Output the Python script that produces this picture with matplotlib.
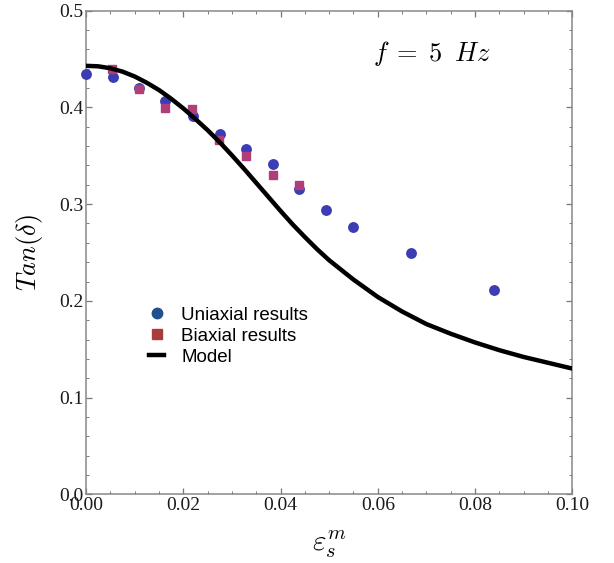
import numpy as np
import matplotlib
matplotlib.use('Agg')
import matplotlib.pyplot as plt
from matplotlib.lines import Line2D
from matplotlib.ticker import MultipleLocator

plt.rcParams['mathtext.fontset'] = 'cm'

# dados
x_uni = [0.0, 0.0055, 0.0108, 0.0163, 0.0219, 0.0275, 0.0329, 0.0384, 0.0438, 0.0494, 0.0548, 0.0668, 0.0839]
y_uni = [0.435, 0.431, 0.420, 0.407, 0.391, 0.373, 0.357, 0.341, 0.316, 0.294, 0.276, 0.249, 0.211]

x_bi = [0.0054, 0.0108, 0.0163, 0.0218, 0.0274, 0.0329, 0.0384, 0.0438]
y_bi = [0.440, 0.419, 0.399, 0.398, 0.366, 0.350, 0.330, 0.320]

x_model = [0.0, 0.0025, 0.005, 0.0075, 0.010, 0.0125, 0.015, 0.0175, 0.020, 0.0225,
           0.025, 0.0275, 0.030, 0.0325, 0.035, 0.0375, 0.040, 0.0425, 0.045, 0.0475,
           0.050, 0.055, 0.060, 0.065, 0.070, 0.075, 0.080, 0.085, 0.090, 0.095, 0.100]
y_model = [0.443, 0.4425, 0.4405, 0.437, 0.432, 0.4255, 0.418, 0.409, 0.399, 0.388,
           0.3765, 0.364, 0.3505, 0.3365, 0.322, 0.3075, 0.293, 0.279, 0.266, 0.2535,
           0.242, 0.222, 0.204, 0.189, 0.176, 0.166, 0.157, 0.149, 0.142, 0.136, 0.130]

labels = ['Uniaxial results', 'Biaxial results', 'Model']

fig = plt.figure(figsize=(6.14, 5.63), dpi=100)
ax = fig.add_axes([0.1401, 0.1220, 0.7920, 0.8590])

ax.plot(x_uni, y_uni, 'o', color='#3c3cb4', markersize=6.8, clip_on=False, zorder=3)
ax.plot(x_bi, y_bi, 's', color='#b03e78', markersize=5.6, clip_on=False, zorder=3)
ax.plot(x_model, y_model, '-', color='black', linewidth=3.2, zorder=4)

ax.set_xlim(0, 0.1)
ax.set_ylim(0, 0.5)
ax.xaxis.set_major_locator(MultipleLocator(0.02))
ax.xaxis.set_minor_locator(MultipleLocator(0.005))
ax.yaxis.set_major_locator(MultipleLocator(0.1))
ax.yaxis.set_minor_locator(MultipleLocator(0.02))
ax.set_xticklabels(['%.2f' % v for v in ax.get_xticks()])
ax.set_yticklabels(['%.1f' % v for v in ax.get_yticks()])

ax.tick_params(which='both', direction='in', top=True, right=True, colors='#777777',
               labelcolor='#1a1a1a', labelsize=14, pad=2)
ax.tick_params(which='major', length=4, width=0.9)
ax.tick_params(which='minor', length=2.5, width=0.7)
for lbl in ax.get_xticklabels() + ax.get_yticklabels():
    lbl.set_family('Liberation Serif')
for s in ax.spines.values():
    s.set_color('#888888')
    s.set_linewidth(1.1)

ax.set_ylabel(r'$Tan(\delta)$', fontsize=19, labelpad=10)
ax.set_xlabel(r'$\varepsilon_s^m$', fontsize=21, labelpad=10)

ax.text(0.711, 0.9125, r'$f\;=\;5\;\;Hz$', transform=ax.transAxes, fontsize=19,
        ha='center', va='center')

handles = [
    Line2D([], [], marker='o', linestyle='none', color='#22508c', markersize=7.5),
    Line2D([], [], marker='s', linestyle='none', color='#a83c3c', markersize=6.5),
    Line2D([], [], color='black', linewidth=3.2),
]
ax.legend(handles, labels, loc='upper left', bbox_to_anchor=(0.13, 0.388),
          frameon=False, borderpad=0, borderaxespad=0, handlelength=0.8,
          handletextpad=0.9, labelspacing=0.2,
          prop={'family': 'Liberation Sans', 'size': 13.5})

plt.savefig('out.png', dpi=100)
